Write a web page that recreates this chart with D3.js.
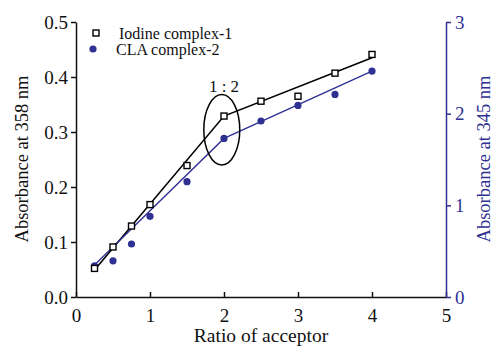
<!DOCTYPE html>
<html lang="en-US">
<head>
<meta charset="UTF-8">
<title>Absorbance vs ratio</title>
<style>
  body {margin: 0; background: #fff;}
  .axis path, .axis line {stroke-width: 1.5px;}
</style>
</head>
<body>
<div id="viz"></div>
<script src="https://d3js.org/d3.v7.min.js"></script>
<script>

// data
var ratios = [0.25, 0.5, 0.75, 1, 1.5, 2, 2.5, 3, 3.5, 4];
var iodine = [0.052, 0.091, 0.129, 0.168, 0.239, 0.329, 0.356, 0.365, 0.407, 0.441];
var cla = [0.34, 0.395, 0.578, 0.88, 1.258, 1.73, 1.92, 2.09, 2.21, 2.465];

// fitted straight segments drawn through the points
var iodineFitX = [0.25, 2, 4];
var iodineFitY = [0.049, 0.329, 0.435];
var claFitX = [0.25, 2, 4];
var claFitY = [0.35, 1.73, 2.465];

var xTicks = [0, 1, 2, 3, 4, 5];
var yLeftTicks = [0, 0.1, 0.2, 0.3, 0.4, 0.5];
var yRightTicks = [0, 1, 2, 3];

var width = 496, height = 346;
var blue = "#2e3192";
var serif = "'Liberation Serif', 'Times New Roman', serif";

var svg = d3.select("#viz").append("svg")
    .attr("width", width)
    .attr("height", height)
    .attr("font-family", serif);

var x = d3.scaleLinear().domain([0, 5]).range([76, 446]);
var yL = d3.scaleLinear().domain([0, 0.5]).range([297, 22]);
var yR = d3.scaleLinear().domain([0, 3]).range([297, 22]);

// axes
var gx = svg.append("g")
    .attr("class", "axis")
    .attr("transform", "translate(0," + yL(0) + ")")
    .call(d3.axisBottom(x).tickValues(xTicks).tickFormat(d3.format("d"))
        .tickSize(-5).tickSizeOuter(0).tickPadding(12));
gx.attr("font-family", serif);
gx.selectAll("line").attr("stroke", "#111");
gx.select(".domain").attr("stroke", "#111");
gx.selectAll("text").attr("font-size", 19).attr("fill", "#111");

var gl = svg.append("g")
    .attr("class", "axis")
    .attr("transform", "translate(" + x(0) + ",0)")
    .call(d3.axisLeft(yL).tickValues(yLeftTicks).tickFormat(d3.format(".1f"))
        .tickSize(5).tickSizeOuter(0).tickPadding(3));
gl.attr("font-family", serif);
gl.selectAll("line").attr("stroke", "#111");
gl.select(".domain").attr("stroke", "#111");
gl.selectAll("text").attr("font-size", 19).attr("fill", "#111");

var gr = svg.append("g")
    .attr("class", "axis")
    .attr("transform", "translate(" + x(5) + ",0)")
    .call(d3.axisRight(yR).tickValues(yRightTicks).tickFormat(d3.format("d"))
        .tickSize(5).tickSizeOuter(0).tickPadding(4));
gr.attr("font-family", serif);
gr.selectAll("line").attr("stroke", blue);
gr.select(".domain").attr("stroke", blue);
gr.selectAll("text").attr("font-size", 19).attr("fill", blue);

// axis titles
svg.append("text")
    .attr("x", 261).attr("y", 342)
    .attr("text-anchor", "middle")
    .attr("font-size", 19.5)
    .attr("fill", "#111")
    .text("Ratio of acceptor");

svg.append("text")
    .attr("transform", "translate(28,159) rotate(-90)")
    .attr("text-anchor", "middle")
    .attr("font-size", 18.5)
    .attr("fill", "#111")
    .text("Absorbance at 358 nm");

svg.append("text")
    .attr("transform", "translate(490,159) rotate(-90)")
    .attr("text-anchor", "middle")
    .attr("font-size", 18.5)
    .attr("fill", blue)
    .text("Absorbance at 345 nm");

// fit lines
var lineL = d3.line()
    .x(function(d, i) { return x(iodineFitX[i]); })
    .y(function(d) { return yL(d); });
var lineR = d3.line()
    .x(function(d, i) { return x(claFitX[i]); })
    .y(function(d) { return yR(d); });

svg.append("path")
    .datum(iodineFitY)
    .attr("d", lineL)
    .attr("fill", "none")
    .attr("stroke", "#000")
    .attr("stroke-width", 1.6);

svg.append("path")
    .datum(claFitY)
    .attr("d", lineR)
    .attr("fill", "none")
    .attr("stroke", blue)
    .attr("stroke-width", 1.3);

// points
svg.append("g").selectAll("circle")
    .data(cla)
    .enter().append("circle")
    .attr("cx", function(d, i) { return x(ratios[i]); })
    .attr("cy", function(d) { return yR(d); })
    .attr("r", 3.6)
    .attr("fill", blue);

svg.append("g").selectAll("rect")
    .data(iodine)
    .enter().append("rect")
    .attr("x", function(d, i) { return x(ratios[i]) - 3; })
    .attr("y", function(d) { return yL(d) - 3; })
    .attr("width", 6)
    .attr("height", 6)
    .attr("fill", "#fff")
    .attr("stroke", "#000")
    .attr("stroke-width", 1.4);

// the 1:2 annotation
svg.append("ellipse")
    .attr("cx", x(1.97))
    .attr("cy", yL(0.304))
    .attr("rx", x(0.243) - x(0))
    .attr("ry", yL(0) - yL(0.064))
    .attr("fill", "none")
    .attr("stroke", "#000")
    .attr("stroke-width", 1.5);

svg.append("text")
    .attr("x", x(2)).attr("y", 92)
    .attr("text-anchor", "middle")
    .attr("font-size", 17)
    .attr("fill", "#111")
    .text("1 : 2");

// legend
var legend = svg.append("g");
legend.append("rect")
    .attr("x", 93).attr("y", 30).attr("width", 6).attr("height", 6)
    .attr("fill", "#fff").attr("stroke", "#000").attr("stroke-width", 1.4);
legend.append("text")
    .attr("x", 119).attr("y", 39)
    .attr("font-size", 16).attr("fill", "#111")
    .text("Iodine complex-1");
legend.append("circle")
    .attr("cx", 93).attr("cy", 49).attr("r", 3.6)
    .attr("fill", blue);
legend.append("text")
    .attr("x", 116).attr("y", 55)
    .attr("font-size", 16).attr("fill", "#111")
    .text("CLA complex-2");

</script>
</body>
</html>
